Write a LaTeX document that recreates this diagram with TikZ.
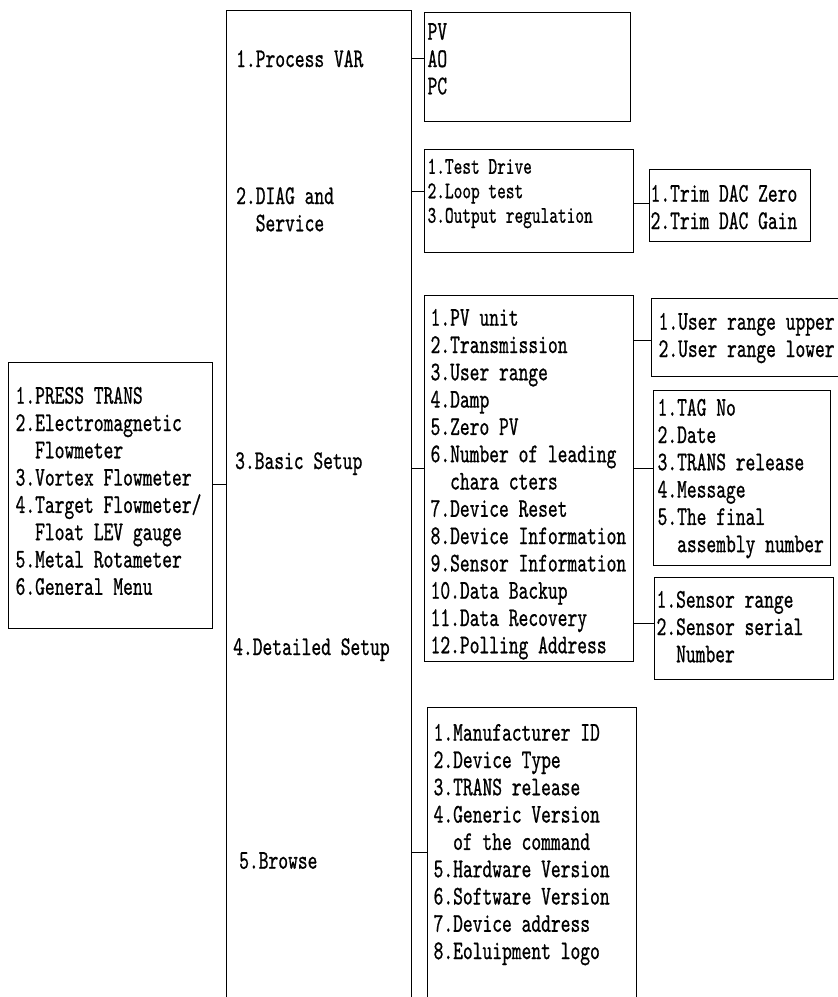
\documentclass[tikz,border=0pt]{standalone}
\usepackage{fontspec}
\usetikzlibrary{positioning, calc}
\newfontfamily\menufamily{lmmono10-regular.otf}[FakeStretch=0.69, FakeBold=0.7]
\newcommand{\menufont}{\menufamily\fontsize{27}{27.3}\selectfont}
\newcommand{\menufontsmall}{\menufamily\fontsize{24}{24.5}\selectfont}
% width, height, left gap, top gap, lines
\newcommand{\menulist}[5]{%
  \begin{minipage}[t][#2][t]{#1}\raggedright\leftskip=#3\relax
  \vspace*{#4}\strut#5\end{minipage}}

\begin{document}
\begin{tikzpicture}[
    x=1pt, y=-1pt,
    menubox/.style={draw, line width=1.2pt, inner sep=0pt, anchor=north west,
                    font=\menufont},
    column/.style={draw, line width=1.2pt, inner sep=0pt, anchor=north west,
                   minimum width=185pt, minimum height=1000pt},
    collabel/.style={inner sep=0pt, anchor=north west, align=left, font=\menufont},
    link/.style={line width=1.2pt}
]
\useasboundingbox (0,0) rectangle (838,997);

% Main menu
\node[menubox] (main) at (8,362) {\menulist{204pt}{266pt}{7pt}{22pt}{%
  1.PRESS TRANS\\2.Electromagnetic\\\phantom{2.}Flowmeter\\3.Vortex Flowmeter\\
  4.Target Flowmeter/\\\phantom{4.}Float LEV gauge\\5.Metal Rotameter\\6.General Menu}};

% Second level column
\node[column] (col) at (226,10) {};
\node[collabel] (cvar) at (236,50) {1.Process VAR};
\node[collabel] (cdiag) at (236,187) {2.DIAG and\\\phantom{2.}Service};
\node[collabel] (cbasic) at (235,452) {3.Basic Setup};
\node[collabel] (cdetail) at (233,638) {4.Detailed Setup};
\node[collabel] (cbrowse) at (239,852) {5.Browse};

% Third level
\node[menubox] (pv) at (424,12) {\menulist{206pt}{109pt}{3pt}{8pt}{PV\\AO\\PC}};
\node[menubox, font=\menufontsmall] (diag) at (424,149) {\menulist{209pt}{103pt}{3pt}{7pt}{%
  1.Test Drive\\2.Loop test\\3.Output regulation}};
\node[menubox] (basic) at (424,295) {\menulist{209pt}{366pt}{6pt}{11pt}{%
  1.PV unit\\2.Transmission\\3.User range\\4.Damp\\5.Zero PV\\
  6.Number of leading\\\phantom{6.}chara cters\\7.Device Reset\\8.Device Information\\
  9.Sensor Information\\10.Data Backup\\11.Data Recovery\\12.Polling Address}};
\node[menubox] (browse) at (427,707) {\menulist{209pt}{303pt}{6pt}{14pt}{%
  1.Manufacturer ID\\2.Device Type\\3.TRANS release\\4.Generic Version\\
  \phantom{4.}of the command\\5.Hardware Version\\6.Software Version\\
  7.Device address\\8.Eoluipment logo}};

% Fourth level
\node[menubox] (trim) at (649,169) {\menulist{161pt}{72pt}{1pt}{13pt}{%
  1.Trim DAC Zero\\2.Trim DAC Gain}};
\node[menubox] (urange) at (651,298) {\menulist{194pt}{78pt}{7pt}{12pt}{%
  1.User range upper\\2.User range lower}};
\node[menubox] (tagno) at (653,390) {\menulist{177pt}{175pt}{4pt}{6pt}{%
  1.TAG No\\2.Date\\3.TRANS release\\4.Message\\5.The final\\\phantom{5.}assembly number}};
\node[menubox] (sensor) at (654,577) {\menulist{179pt}{102pt}{2pt}{11pt}{%
  1.Sensor range\\2.Sensor serial\\\phantom{2.}Number}};

% Links
\draw[link] ([yshift=11pt]main.east) -- ([yshift=11pt]main.east -| col.west);
\draw[link] ([yshift=8.5pt]pv.west) -- ([yshift=8.5pt]pv.west -| col.east);
\draw[link] ([yshift=9.5pt]diag.west) -- ([yshift=9.5pt]diag.west -| col.east);
\draw[link] ([yshift=10pt]basic.west) -- ([yshift=10pt]basic.west -| col.east);
\draw[link] ([yshift=6.5pt]browse.west) -- ([yshift=6.5pt]browse.west -| col.east);
\draw[link] ([yshift=2pt]trim.west) -- ([yshift=2pt]trim.west -| diag.east);
\draw[link] ([yshift=-3pt]urange.west) -- ([yshift=-3pt]urange.west -| basic.east);
\draw[link] ([yshift=9.5pt]tagno.west) -- ([yshift=9.5pt]tagno.west -| basic.east);
\draw[link] ([yshift=5pt]sensor.west) -- ([yshift=5pt]sensor.west -| basic.east);

\end{tikzpicture}
\end{document}
